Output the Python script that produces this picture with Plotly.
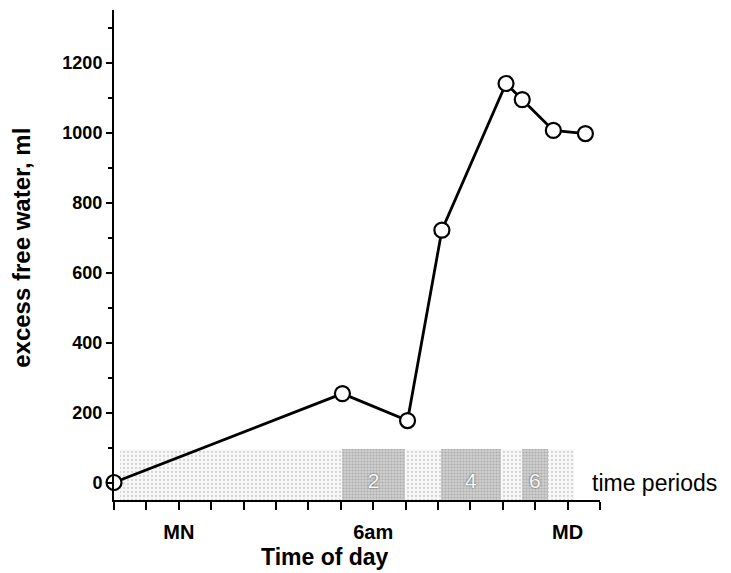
import plotly.graph_objects as go

# --- data ---
hours = [-2.0, 5.05, 7.06, 8.12, 10.10, 10.60, 11.56, 12.55]
excess_free_water = [0, 254, 177, 721, 1140, 1094, 1006, 997]

period_start = [-1.8, 5.05, 6.98, 8.08, 9.95, 10.58, 11.40]
period_end = [5.05, 6.98, 8.08, 9.95, 10.58, 11.40, 12.20]
period_labels = ["", "2", "", "4", "", "6", ""]
period_dark = [False, True, False, True, False, True, False]
band_bottom = -50
band_top = 95

x_tick_hours = list(range(-2, 14))
x_tick_named = {0: "MN", 6: "6am", 12: "MD"}
y_major_ticks = [0, 200, 400, 600, 800, 1000, 1200]

# --- figure ---
fig = go.Figure()

centers = [(a + b) / 2 for a, b in zip(period_start, period_end)]
widths = [b - a for a, b in zip(period_start, period_end)]

for dark in (False, True):
    idx = [i for i, d in enumerate(period_dark) if d == dark]
    fig.add_trace(go.Bar(
        x=[centers[i] for i in idx],
        width=[widths[i] for i in idx],
        y=[band_top - band_bottom for _ in idx],
        base=band_bottom,
        marker=dict(
            color="#c8c8c8" if dark else "#f3f3f3",
            line=dict(width=0),
            pattern=dict(
                shape=".",
                fgcolor="#8c8c8c" if dark else "#b0b0b0",
                bgcolor="#d0d0d0" if dark else "#f8f8f8",
                size=3 if dark else 4,
                solidity=0.4 if dark else 0.25,
            ),
        ),
        hoverinfo="skip",
        showlegend=False,
    ))

lab_idx = [i for i, t in enumerate(period_labels) if t]
fig.add_trace(go.Scatter(
    x=[centers[i] for i in lab_idx],
    y=[0 for _ in lab_idx],
    mode="text",
    text=[period_labels[i] for i in lab_idx],
    textfont=dict(family="Liberation Sans", size=21, color="#f8f8f8",
                  shadow="0px 0px 2px #444444"),
    hoverinfo="skip",
    showlegend=False,
))

fig.add_trace(go.Scatter(
    x=hours,
    y=excess_free_water,
    mode="lines+markers",
    line=dict(color="black", width=2.8),
    marker=dict(size=15, color="white", line=dict(color="black", width=2.2)),
    cliponaxis=False,
    showlegend=False,
))

fig.add_annotation(
    x=0.979, xref="paper", y=0, yref="y",
    text="time periods", showarrow=False, xanchor="left", yanchor="middle",
    font=dict(family="Liberation Sans", size=23, color="black"),
)
fig.add_annotation(
    x=0.434, xref="paper", y=-0.116, yref="paper",
    text="Time of day", showarrow=False, xanchor="center", yanchor="middle",
    font=dict(family="Liberation Sans", size=23, color="black", weight="bold"),
)
fig.add_annotation(
    x=-0.189, xref="paper", y=0.515, yref="paper", textangle=-90,
    text="excess free water, ml", showarrow=False, xanchor="center", yanchor="middle",
    font=dict(family="Liberation Sans", size=24, color="black", weight="bold"),
)

fig.update_layout(
    width=723, height=565,
    margin=dict(l=106, r=131, t=2, b=73, autoexpand=False),
    plot_bgcolor="white", paper_bgcolor="white",
    barmode="overlay", bargap=0,
    showlegend=False,
    font=dict(family="Liberation Sans", color="black"),
)

fig.update_xaxes(
    range=[-2, 13], automargin=False,
    tickmode="array",
    tickvals=x_tick_hours,
    ticktext=[x_tick_named.get(h, "") for h in x_tick_hours],
    ticks="outside", ticklen=8, tickwidth=2, tickcolor="black",
    ticklabelstandoff=5,
    showline=True, linewidth=2, linecolor="black",
    showgrid=False, zeroline=False,
    tickfont=dict(family="Liberation Sans", size=20, color="black", weight="bold"),
)

fig.update_yaxes(
    range=[-50, 1350], automargin=False,
    tickmode="array",
    tickvals=y_major_ticks,
    ticks="outside", ticklen=6, tickwidth=2, tickcolor="black",
    minor=dict(dtick=100, tick0=0, ticks="outside", ticklen=4, tickwidth=1.5, tickcolor="black"),
    showline=True, linewidth=2, linecolor="black",
    showgrid=False, zeroline=False,
    tickfont=dict(family="Liberation Sans", size=18, color="black", weight="bold"),
)

fig.write_html("out.html")
